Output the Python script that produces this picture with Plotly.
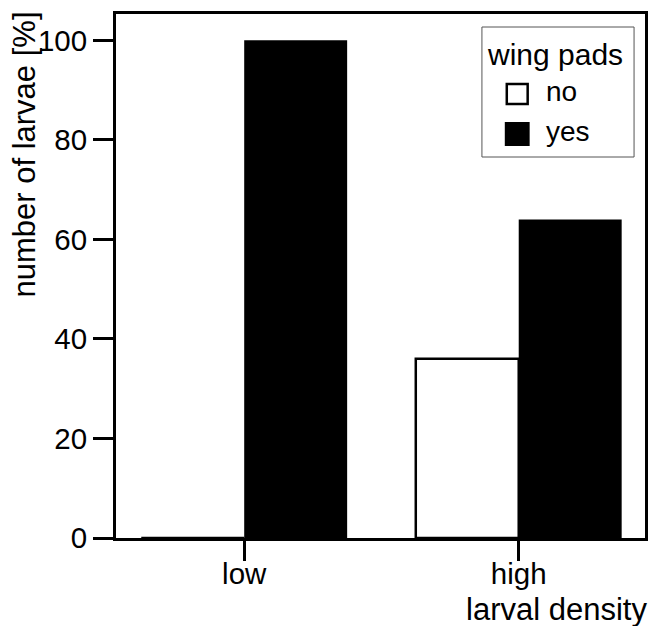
import plotly.graph_objects as go

# ---- data ----
categories = ["low", "high"]
no_wing_pads = [0, 36]
yes_wing_pads = [100, 64]
y_tick_values = [0, 20, 40, 60, 80, 100]
series_names = ["no", "yes"]
legend_title = "wing pads"
x_title = "larval density"
y_title = "number of larvae [%]"

# ---- geometry: screen-space plot box x 116..648, y 14..538 ----
W, H = 653, 626
L, T = 116, 14
R = W - 648
B = H - 538
PW = W - L - R
PH = H - T - B


def px(xs):
    """screen pixel x -> paper coordinate"""
    return (xs - L) / PW


def py(ys):
    """screen pixel y -> paper coordinate"""
    return (H - B - ys) / PH


FONT = "Liberation Sans, Arial, Helvetica, sans-serif"
FS = 29.5

fig = go.Figure()
fig.add_trace(go.Bar(
    x=categories, y=no_wing_pads, name=series_names[0],
    marker=dict(color="white", line=dict(color="black", width=2.5)),
    showlegend=False,
))
fig.add_trace(go.Bar(
    x=categories, y=yes_wing_pads, name=series_names[1],
    marker=dict(color="black", line=dict(color="black", width=0)),
    showlegend=False,
))

axis_common = dict(
    showline=True, mirror=True, linecolor="black", linewidth=2.8,
    ticks="outside", ticklen=20, tickwidth=2.5, tickcolor="black",
    tickfont=dict(family=FONT, size=FS, color="black"),
    showgrid=False, zeroline=False,
)

fig.update_layout(
    width=W, height=H,
    margin=dict(l=L, r=R, t=T, b=B, pad=0),
    paper_bgcolor="white", plot_bgcolor="white",
    barmode="group", bargap=0.25, bargroupgap=0,
    font=dict(family=FONT, size=FS, color="black"),
    xaxis=dict(axis_common, type="category", range=[-0.467, 1.46], ticklabelstandoff=-12),
    yaxis=dict(axis_common, range=[0, 105.3], tickvals=y_tick_values),
    showlegend=False,
)

ann = []
ann.append(dict(text=y_title, xref="paper", yref="paper", x=px(23), y=py(155),
                xanchor="center", yanchor="middle", textangle=-90, showarrow=False,
                font=dict(family=FONT, size=31, color="black")))
ann.append(dict(text=x_title, xref="paper", yref="paper", x=px(652), y=py(609),
                xanchor="right", yanchor="middle", showarrow=False,
                font=dict(family=FONT, size=31, color="black")))
ann.append(dict(text=legend_title, xref="paper", yref="paper", x=px(557), y=py(54),
                xanchor="center", yanchor="middle", showarrow=False,
                font=dict(family=FONT, size=30, color="black")))
ann.append(dict(text=series_names[0], xref="paper", yref="paper", x=px(546), y=py(91),
                xanchor="left", yanchor="middle", showarrow=False,
                font=dict(family=FONT, size=28, color="black")))
ann.append(dict(text=series_names[1], xref="paper", yref="paper", x=px(546), y=py(131),
                xanchor="left", yanchor="middle", showarrow=False,
                font=dict(family=FONT, size=28, color="black")))

shapes = [
    dict(type="rect", xref="paper", yref="paper", x0=px(484), x1=px(637), y0=py(157), y1=py(27),
         line=dict(color="#555555", width=1), fillcolor="rgba(0,0,0,0)"),
    dict(type="rect", xref="paper", yref="paper", x0=px(509), x1=px(530), y0=py(104), y1=py(84),
         line=dict(color="black", width=2.5), fillcolor="white"),
    dict(type="rect", xref="paper", yref="paper", x0=px(507), x1=px(532), y0=py(146), y1=py(122),
         line=dict(color="black", width=0), fillcolor="black"),
]

fig.update_layout(annotations=ann, shapes=shapes)

fig.write_html("out.html", config={"displayModeBar": False},
               post_script="document.body.style.margin='0';")
